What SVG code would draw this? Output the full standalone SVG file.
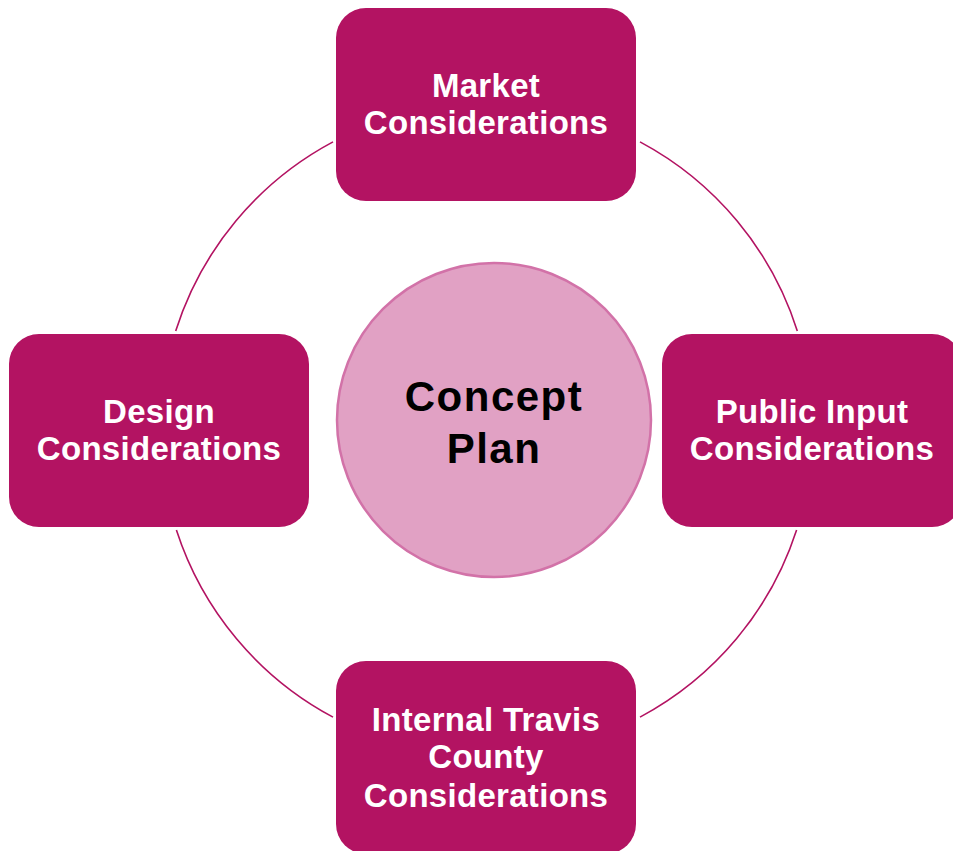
<svg xmlns="http://www.w3.org/2000/svg" width="953" height="851" viewBox="0 0 953 851">
<style>
.box{fill:#b31362;}
.lbl{font-family:"Liberation Sans",Arial,sans-serif;font-weight:bold;font-size:33px;fill:#ffffff;text-anchor:middle;letter-spacing:0.3px;}
.ctr{font-family:"Liberation Sans",Arial,sans-serif;font-weight:bold;font-size:42px;fill:#000000;text-anchor:middle;letter-spacing:1.5px;}
.ring{fill:none;stroke:#b31362;stroke-width:1.6;}
</style>
<rect width="953" height="851" fill="#ffffff"/>
<g id="connectors">
<path class="ring" d="M175.7,331 A326,326 0 0 1 333,141.9"/>
<path class="ring" d="M640,141.9 A326,326 0 0 1 797.3,331"/>
<path class="ring" d="M796.6,530 A326,326 0 0 1 640,717.1"/>
<path class="ring" d="M333,717.1 A326,326 0 0 1 176.4,530"/>
</g>
<g id="concept">
<circle cx="494" cy="420" r="157" fill="#e1a1c4" stroke="#d272a8" stroke-width="2.5"/>
<text class="ctr" x="494" y="411">Concept</text>
<text class="ctr" x="494" y="463">Plan</text>
</g>
<g id="market">
<rect class="box" x="336" y="8" width="300" height="193" rx="30"/>
<text class="lbl" x="486" y="97">Market</text>
<text class="lbl" x="486" y="134">Considerations</text>
</g>
<g id="public">
<rect class="box" x="662" y="334" width="300" height="193" rx="30"/>
<text class="lbl" x="812" y="423">Public Input</text>
<text class="lbl" x="812" y="460">Considerations</text>
</g>
<g id="design">
<rect class="box" x="9" y="334" width="300" height="193" rx="30"/>
<text class="lbl" x="159" y="423">Design</text>
<text class="lbl" x="159" y="460">Considerations</text>
</g>
<g id="internal">
<rect class="box" x="336" y="661" width="300" height="193" rx="30"/>
<text class="lbl" x="486" y="731">Internal Travis</text>
<text class="lbl" x="486" y="768">County</text>
<text class="lbl" x="486" y="807">Considerations</text>
</g>
</svg>
